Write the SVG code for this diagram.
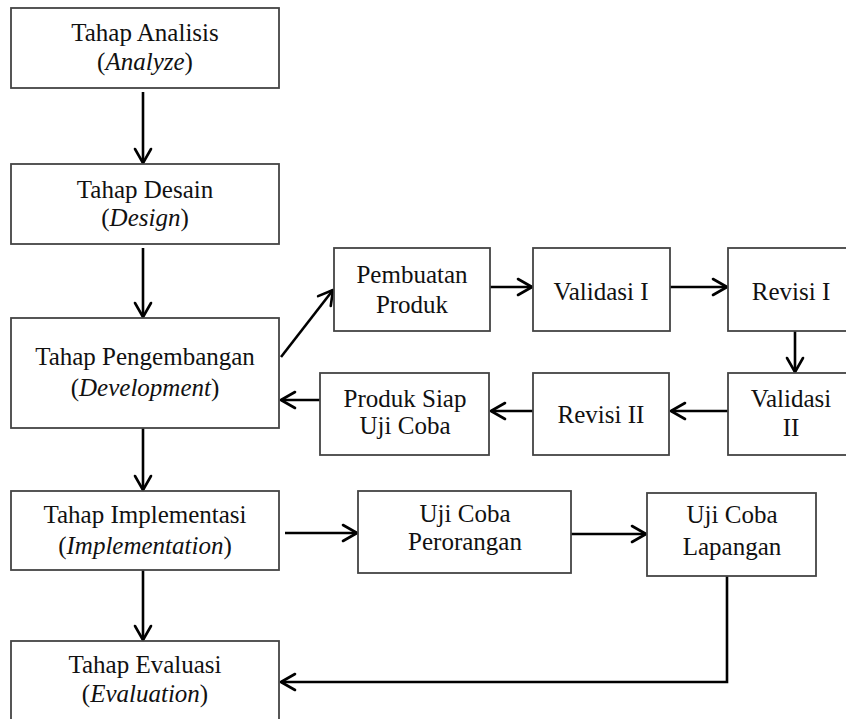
<svg xmlns="http://www.w3.org/2000/svg" width="846" height="719" viewBox="0 0 846 719">
<style>
.box{fill:#fff;stroke:#444;stroke-width:1.8}
.t{font-size:25px;fill:#111;text-anchor:middle}
.i{font-style:italic}
.c{fill:none;stroke:#000;stroke-width:2.6}
</style>
<defs>
<marker id="ah" markerUnits="userSpaceOnUse" markerWidth="18" markerHeight="20" viewBox="0 0 18 20" refX="16" refY="10" orient="auto">
<path d="M2,2 L16,10 L2,18" fill="none" stroke="#000" stroke-width="2.6" stroke-linecap="round" stroke-linejoin="round"/>
</marker>
</defs>
<rect width="846" height="719" fill="#fff"/>
<g id="connectors">
<line class="c" x1="143" y1="92" x2="143" y2="163" marker-end="url(#ah)"/>
<line class="c" x1="143" y1="248" x2="143" y2="317" marker-end="url(#ah)"/>
<line class="c" x1="143" y1="428" x2="143" y2="490" marker-end="url(#ah)"/>
<line class="c" x1="143" y1="570" x2="143" y2="640" marker-end="url(#ah)"/>
<line class="c" x1="281" y1="357" x2="333" y2="290" marker-end="url(#ah)"/>
<line class="c" x1="490" y1="287" x2="532" y2="287" marker-end="url(#ah)"/>
<line class="c" x1="670" y1="287" x2="727" y2="287" marker-end="url(#ah)"/>
<line class="c" x1="795" y1="331" x2="795" y2="372" marker-end="url(#ah)"/>
<line class="c" x1="728" y1="411" x2="671" y2="411" marker-end="url(#ah)"/>
<line class="c" x1="533" y1="411" x2="491" y2="411" marker-end="url(#ah)"/>
<line class="c" x1="320" y1="400" x2="281" y2="400" marker-end="url(#ah)"/>
<line class="c" x1="285" y1="533" x2="357" y2="533" marker-end="url(#ah)"/>
<line class="c" x1="571" y1="534" x2="646" y2="534" marker-end="url(#ah)"/>
<polyline class="c" points="727,576 727,682 281,682" marker-end="url(#ah)"/>
</g>
<g font-family="Liberation Serif, DejaVu Serif, Noto Serif, Times New Roman, serif">
<g id="analisis">
<rect class="box" x="11" y="8" width="268" height="80"/>
<text class="t" x="145" y="41">Tahap Analisis</text>
<text class="t" x="145" y="70">(<tspan class="i">Analyze</tspan>)</text>
</g>
<g id="desain">
<rect class="box" x="11" y="164" width="268" height="80"/>
<text class="t" x="145" y="198">Tahap Desain</text>
<text class="t" x="145" y="226">(<tspan class="i">Design</tspan>)</text>
</g>
<g id="pengembangan">
<rect class="box" x="11" y="318" width="268" height="110"/>
<text class="t" x="145" y="365">Tahap Pengembangan</text>
<text class="t" x="145" y="396">(<tspan class="i">Development</tspan>)</text>
</g>
<g id="implementasi">
<rect class="box" x="11" y="491" width="268" height="79"/>
<text class="t" x="145" y="523">Tahap Implementasi</text>
<text class="t" x="145" y="554">(<tspan class="i">Implementation</tspan>)</text>
</g>
<g id="evaluasi">
<rect class="box" x="11" y="641" width="268" height="90"/>
<text class="t" x="145" y="673">Tahap Evaluasi</text>
<text class="t" x="145" y="702">(<tspan class="i">Evaluation</tspan>)</text>
</g>
<g id="pembuatan">
<rect class="box" x="334" y="248" width="156" height="83"/>
<text class="t" x="412" y="283">Pembuatan</text>
<text class="t" x="412" y="313">Produk</text>
</g>
<g id="validasi1">
<rect class="box" x="533" y="248" width="137" height="83"/>
<text class="t" x="601" y="300">Validasi I</text>
</g>
<g id="revisi1">
<rect class="box" x="728" y="248" width="130" height="83"/>
<text class="t" x="791" y="300">Revisi I</text>
</g>
<g id="validasi2">
<rect class="box" x="728" y="373" width="130" height="82"/>
<text class="t" x="791" y="407">Validasi</text>
<text class="t" x="791" y="436">II</text>
</g>
<g id="revisi2">
<rect class="box" x="533" y="373" width="136" height="82"/>
<text class="t" x="601" y="423">Revisi II</text>
</g>
<g id="produksiap">
<rect class="box" x="320" y="373" width="169" height="82"/>
<text class="t" x="405" y="407">Produk Siap</text>
<text class="t" x="405" y="434">Uji Coba</text>
</g>
<g id="perorangan">
<rect class="box" x="358" y="491" width="213" height="82"/>
<text class="t" x="465" y="522">Uji Coba</text>
<text class="t" x="465" y="550">Perorangan</text>
</g>
<g id="lapangan">
<rect class="box" x="647" y="493" width="169" height="83"/>
<text class="t" x="732" y="523">Uji Coba</text>
<text class="t" x="732" y="555">Lapangan</text>
</g>
</g>
</svg>
